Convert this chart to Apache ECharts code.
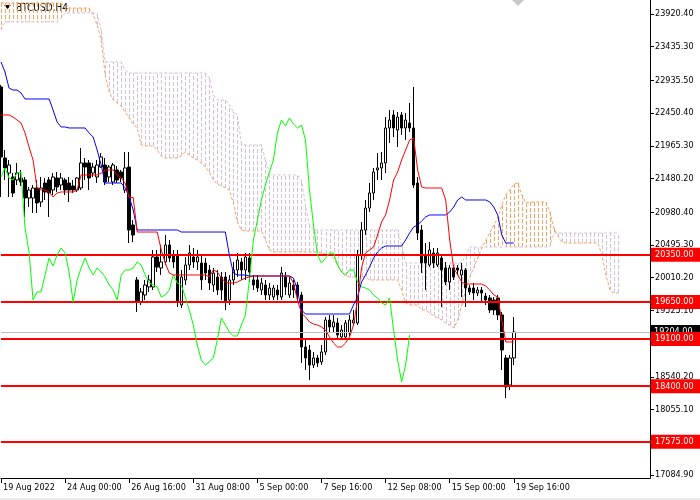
<!DOCTYPE html>
<html><head><meta charset="utf-8">
<script src="https://cdn.jsdelivr.net/npm/echarts@6/dist/echarts.min.js"></script>
<style>html,body{margin:0;padding:0;background:#fff}#c{width:700px;height:500px}</style>
</head><body><div id="c"></div>
<script>
const dateLabels = ['19 Aug 2022','24 Aug 00:00','26 Aug 16:00','31 Aug 08:00','5 Sep 00:00','7 Sep 16:00','12 Sep 08:00','15 Sep 00:00','19 Sep 16:00'];
const priceTicks = [23920.40,23435.30,22935.50,22450.40,21965.30,21480.20,20980.40,20495.30,20010.20,19525.10,19025.30,18540.20,18055.10,17084.90];
const levels = [20350,19650,19100,18400,17575];

const open = [
22838,21785,21562,21503,21459,21488,21459,21192,21192,21340,
21132,21414,21459,21310,21488,21384,21459,21414,21370,21310,
21340,21711,21711,21562,21503,21651,21681,21503,21429,21607,
21577,21310,21651,20791,19976,19649,19753,19872,19872,20317,
20154,20243,20495,20346,20346,19605,19976,20198,20317,20243,
20228,20228,20124,19901,20020,20020,20020,19679,19976,20124,
20243,20124,20302,19976,19976,19827,19901,19753,19723,19827,
19723,20020,19753,19901,19901,19753,18982,18937,18715,18819,
18760,18908,19382,19279,19338,19130,19130,19190,19338,19338,
20346,20717,21043,21266,21607,21637,21711,22230,22423,22200,
22423,22230,22304,22230,21414,20717,20346,20198,20376,20198,
20302,20154,19946,20154,20154,20050,20124,19857,19857,19783,
19827,19738,19709,19679,19709,19457,18819,18418,18819];
const close = [
21800,21637,21681,21266,21562,21429,21192,21310,21340,21118,
21340,21281,21266,21503,21355,21488,21310,21310,21310,21488,
21711,21651,21488,21651,21681,21800,21429,21651,21681,21459,
21488,21637,20717,20643,19649,19798,19901,19976,20317,20168,
20243,20495,20302,20243,19649,20020,20198,20376,20243,20317,
19976,20079,19931,20079,19827,19827,19649,19976,20124,20272,
20124,20317,20094,19901,19857,19931,19753,19857,19857,19753,
20079,19872,19931,19827,19753,18982,18819,18715,18819,18745,
18908,19382,19279,19353,19160,19234,19338,19382,19382,20346,
20717,21043,21266,21577,21637,21711,22230,22348,22230,22393,
22230,22348,22230,21384,20673,20228,20228,20420,20228,20376,
20124,19946,20154,20020,20124,20124,19857,19798,19783,19827,
19783,19679,19531,19531,19457,18937,18389,18819,19204];
const low = [
21206,21459,21206,21206,21384,21370,20910,21058,20969,20969,
21058,21162,20910,21236,21281,21310,21236,21132,21266,21281,
21310,21459,21310,21503,21414,21640,21384,21429,21384,21414,
21429,21266,20524,20539,19501,19605,19679,19798,19827,20094,
20050,20198,20243,20154,19575,19560,19901,20124,20154,20124,
19827,19976,19827,19798,19753,19679,19531,19605,19901,20020,
19976,19976,19946,19827,19798,19753,19679,19679,19679,19679,
19679,19753,19709,19709,19679,18745,18641,18493,18671,18685,
18715,18863,19204,19204,19086,19086,19086,19145,19308,19308,
20272,20643,20984,21162,21459,21459,21562,22007,22096,21948,
22126,22052,22170,21340,20569,20079,19827,20168,20154,20168,
19575,19901,19827,19976,20050,19723,19575,19753,19679,19738,
19635,19605,19486,19457,19382,18641,18226,18344,18715];
const high = [
22868,21903,21755,21562,21711,21607,21503,21355,21384,21459,
21503,21488,21503,21562,21577,21562,21488,21503,21459,21503,
21933,21785,21755,21711,21755,21859,21785,21681,21711,21666,
21607,21874,21874,20865,20020,19857,19976,20050,20420,20420,
20495,20643,20569,20420,20420,20124,20317,20495,20450,20420,
20346,20302,20198,20154,20124,20094,20094,20050,20243,20376,
20302,20376,20376,20050,20050,20005,19976,19931,19901,19901,
20168,20094,20020,19976,19946,19798,19086,19012,18908,18863,
19012,19427,19457,19457,19412,19308,19382,19457,19531,20420,
20836,21162,21414,21637,21859,21874,22393,22497,22497,22467,
22467,22452,22601,22838,21503,20791,20524,20539,20450,20450,
20346,20243,20198,20198,20198,20228,20154,19901,19931,19872,
19872,19783,19753,19723,19753,19501,18863,18863,19427];

const tenkan = [
22423,22423,22423,22393,22348,22304,22156,21948,21755,21340,
21310,21310,21281,21206,21266,21281,21281,21281,21281,21310,
21533,21533,21533,21533,21533,21562,21607,21607,21607,21533,
21488,21414,21199,21199,20687,20687,20687,20687,20687,20687,
20420,20228,20079,20050,20050,20050,20050,20050,20050,20050,
20050,20050,20020,20124,20094,20005,19946,19931,19931,19946,
19976,20005,20020,20035,20035,20035,20035,20035,20035,20035,
20035,20035,20035,19931,19679,19486,19427,19353,19323,19308,
19279,19234,19130,19041,18982,18982,19041,19130,19308,19679,
20154,20376,20420,20465,20643,20836,20940,21162,21459,21577,
21755,21903,22052,22082,21607,21355,21340,21340,21340,21340,
21340,21162,20569,20154,20050,19946,19916,19916,19916,19916,
19916,19886,19827,19753,19723,19382,19056,19056,19056];
const kijun = [
23209,23060,22823,22793,22793,22749,22660,22660,22660,22660,
22660,22660,22660,22497,22319,22245,22245,22230,22230,22230,
22230,22230,22156,22096,21903,21681,21414,21414,21414,21414,
21414,21340,21206,21014,20717,20717,20717,20717,20717,20717,
20717,20717,20717,20717,20717,20687,20687,20687,20687,20687,
20687,20687,20687,20687,20687,20687,20687,20346,20079,20050,
20050,20050,20035,20035,20035,20035,20035,20035,20035,20035,
20035,20035,20035,20005,19827,19531,19471,19471,19471,19471,
19471,19471,19471,19471,19471,19471,19471,19471,19605,19723,
19946,20050,20168,20302,20391,20450,20480,20480,20480,20480,
20480,20569,20673,20762,20791,20851,20910,20940,20940,20940,
20940,20940,20984,21058,21162,21206,21162,21162,21162,21162,
21162,21162,21132,21058,20940,20643,20524,20524,20524];
const chikou = [
21503,21637,21488,21459,21562,21577,20747,20391,19679,19798,
19798,20050,20302,20183,20346,20450,20376,20094,19649,19976,
20154,20302,20154,20050,20154,20094,20020,19901,19827,19679,
20050,20124,20124,20154,20243,20198,20050,19931,19901,19872,
19723,19753,19827,20050,19931,19901,19723,19531,19308,19012,
18789,18715,18760,18819,19086,19412,19308,19204,19145,19145,
19308,19457,19976,20569,20865,21162,21384,21577,21755,22156,
22348,22260,22378,22289,22230,22274,22052,21310,20791,20346,
20228,20302,20376,20376,20198,20094,20050,20124,20124,19946,
19872,19857,19827,19753,19709,19635,19605,19709,19234,18789,
18463,18715,19160];
const spanA = [
24084,24084,24084,24084,24084,24084,24084,24084,24084,24084,
24084,24084,24084,24084,24084,24084,24009,24009,24009,24009,
24009,24009,24009,23906,23757,23535,23016,22764,22645,22601,
22556,22467,22378,22289,22230,21978,21963,21963,21963,21903,
21814,21785,21785,21785,21785,21814,21874,21829,21785,21755,
21711,21651,21577,21459,21399,21370,21340,21310,21118,20836,
20717,20702,20702,20702,20702,20702,20569,20420,20391,20391,
20391,20391,20391,20391,20391,20391,20391,20391,20391,20391,
20376,20361,20346,20302,20198,20094,20035,20020,20020,20020,
20020,20020,19976,19976,19976,19976,19976,19976,19976,19976,
19827,19635,19605,19605,19605,19531,19531,19486,19442,19412,
19382,19338,19308,19264,19382,19605,19827,20020,20154,20302,
20450,20569,20673,20791,20895,21088,21236,21310,21399,21414,
21236,21118,21132,21132,21132,21132,21132,20984,20747,20628,
20539,20524,20524,20524,20524,20524,20524,20524,20524,20524,
20346,20050,19827,19783,19783];
const spanB = [
23683,23802,23802,23802,23802,23802,23802,23802,23802,23802,
23802,23802,23802,23802,23802,23861,23935,23935,23935,23935,
23935,23935,23935,23935,23935,23683,23209,23209,23209,23209,
23209,23090,23046,23046,23046,23046,23046,23046,23046,23046,
23046,23046,23046,23046,23046,23046,23046,23046,23046,23046,
23046,23046,22971,22719,22645,22645,22645,22571,22467,22423,
22007,21978,21978,21978,21978,21978,21755,21577,21533,21533,
21533,21533,21533,21533,21533,21459,21088,20791,20717,20717,
20717,20717,20717,20717,20717,20717,20717,20717,20717,20717,
20717,20717,20717,20717,20717,20717,20717,20717,20717,20717,
20495,20228,20228,20228,20228,20228,20228,20228,20228,20228,
20228,20228,20228,20228,20228,20228,20346,20465,20465,20465,
20465,20465,20465,20465,20465,20465,20465,20465,20465,20465,
20465,20465,20465,20465,20465,20465,20465,20465,20673,20673,
20673,20673,20673,20673,20673,20673,20673,20673,20673,20673,
20673,20673,20673,20673,20673];
const bidPrice = close[close.length - 1];

const SLOTS = 163;
const categories = Array.from({length: SLOTS}, (_, i) =>
  (i % 16 === 0 && i / 16 < dateLabels.length) ? dateLabels[i / 16] : String(i));
const showTick = (i) => i % 16 === 0 && i / 16 < dateLabels.length;

const FONT = "'DejaVu Sans Condensed','Liberation Sans',Arial,sans-serif";
const chart = echarts.init(document.getElementById('c'), null, {renderer: 'canvas'});

const lineBase = {type: 'line', symbol: 'none', silent: true, animation: false, emphasis: {disabled: true}};

chart.setOption({
  animation: false,
  backgroundColor: '#ffffff',
  grid: {left: 1, right: 50, top: 0, bottom: 22, containLabel: false},
  xAxis: {
    type: 'category', data: categories, boundaryGap: false,
    axisLine: {lineStyle: {color: '#000', width: 1}},
    axisTick: {show: true, interval: showTick, length: 5, lineStyle: {color: '#000'}},
    axisLabel: {interval: showTick, align: 'left', margin: 5, color: '#000', fontSize: 9,
      fontFamily: FONT, padding: [0, 0, 0, 2]},
    splitLine: {show: false}
  },
  yAxis: {
    type: 'value', position: 'right', min: 17039, max: 24128,
    axisLine: {show: true, lineStyle: {color: '#000'}},
    axisTick: {show: true, length: 4, customValues: priceTicks, lineStyle: {color: '#000'}},
    axisLabel: {customValues: priceTicks, formatter: (v) => Number(v).toFixed(2), color: '#000',
      fontSize: 9, fontFamily: FONT, margin: 5},
    splitLine: {show: false}
  },
  graphic: [
    {type: 'polygon', shape: {points: [[4, 5], [11, 5], [7.5, 9]]}, style: {fill: '#000'}},
    {type: 'text', x: 16, y: 8, style: {text: 'BTCUSD,H4', font: '10px ' + FONT, fill: '#000', verticalAlign: 'middle'}},
    {type: 'polygon', shape: {points: [[512, 0], [524, 0], [518, 6]]}, style: {fill: '#C8C8C8'}},
    {type: 'rect', shape: {x: 0, y: 498, width: 700, height: 2}, style: {fill: '#ECECEC'}}
  ],
  series: [
    {
      type: 'custom', z: 1, silent: true, clip: true, animation: false,
      data: spanA.map((a, i) => [i, a, spanB[i]]),
      encode: {x: 0, y: [1, 2]},
      renderItem: (params, api) => {
        const i = api.value(0), a = api.value(1), b = api.value(2);
        const pa = api.coord([i, a]), pb = api.coord([i, b]);
        const x = Math.round(pa[0]) + 0.5;
        return {type: 'line', shape: {x1: x, y1: pa[1], x2: x, y2: pb[1]},
          style: {stroke: a >= b ? '#F4A460' : '#D8BFD8', lineWidth: 1, lineDash: [4, 2]}};
      }
    },
    Object.assign({}, lineBase, {z: 2, data: spanA, lineStyle: {color: '#F4A460', width: 1, type: [3, 2]}}),
    Object.assign({}, lineBase, {z: 2, data: spanB, lineStyle: {color: '#D8BFD8', width: 1, type: [3, 2]}}),
    Object.assign({}, lineBase, {z: 3, data: [], markLine: {
      silent: true, symbol: ['none', 'none'], animation: false, emphasis: {disabled: true},
      lineStyle: {color: '#C0C0C0', width: 1, type: 'solid'},
      label: {show: true, position: 'end', distance: 0, formatter: (p) => Number(p.value).toFixed(2),
        color: '#fff', backgroundColor: '#000', padding: [3, 8, 2, 4], fontSize: 9, fontFamily: FONT},
      data: [{yAxis: bidPrice}]
    }}),
    {
      type: 'candlestick', z: 4, silent: true, animation: false, barWidth: 3,
      data: open.map((o, i) => [o, close[i], low[i], high[i]]),
      itemStyle: {color: '#ffffff', color0: '#000000', borderColor: '#000000', borderColor0: '#000000', borderWidth: 1},
      emphasis: {disabled: true}
    },
    Object.assign({}, lineBase, {z: 5, data: chikou, lineStyle: {color: '#00FF00', width: 1}}),
    Object.assign({}, lineBase, {z: 5, data: kijun, lineStyle: {color: '#0000FF', width: 1}}),
    Object.assign({}, lineBase, {z: 5, data: tenkan, lineStyle: {color: '#FF0000', width: 1}}),
    Object.assign({}, lineBase, {z: 6, data: [], markLine: {
      silent: true, symbol: ['none', 'none'], animation: false, emphasis: {disabled: true},
      lineStyle: {color: '#FF0000', width: 2, type: 'solid'},
      label: {show: true, position: 'end', distance: 1, formatter: (p) => Number(p.value).toFixed(2),
        color: '#fff', backgroundColor: '#FF0000', padding: [3, 8, 2, 4], fontSize: 9, fontFamily: FONT},
      data: levels.map((v) => ({yAxis: v}))
    }})
  ]
});
</script>
</body></html>
